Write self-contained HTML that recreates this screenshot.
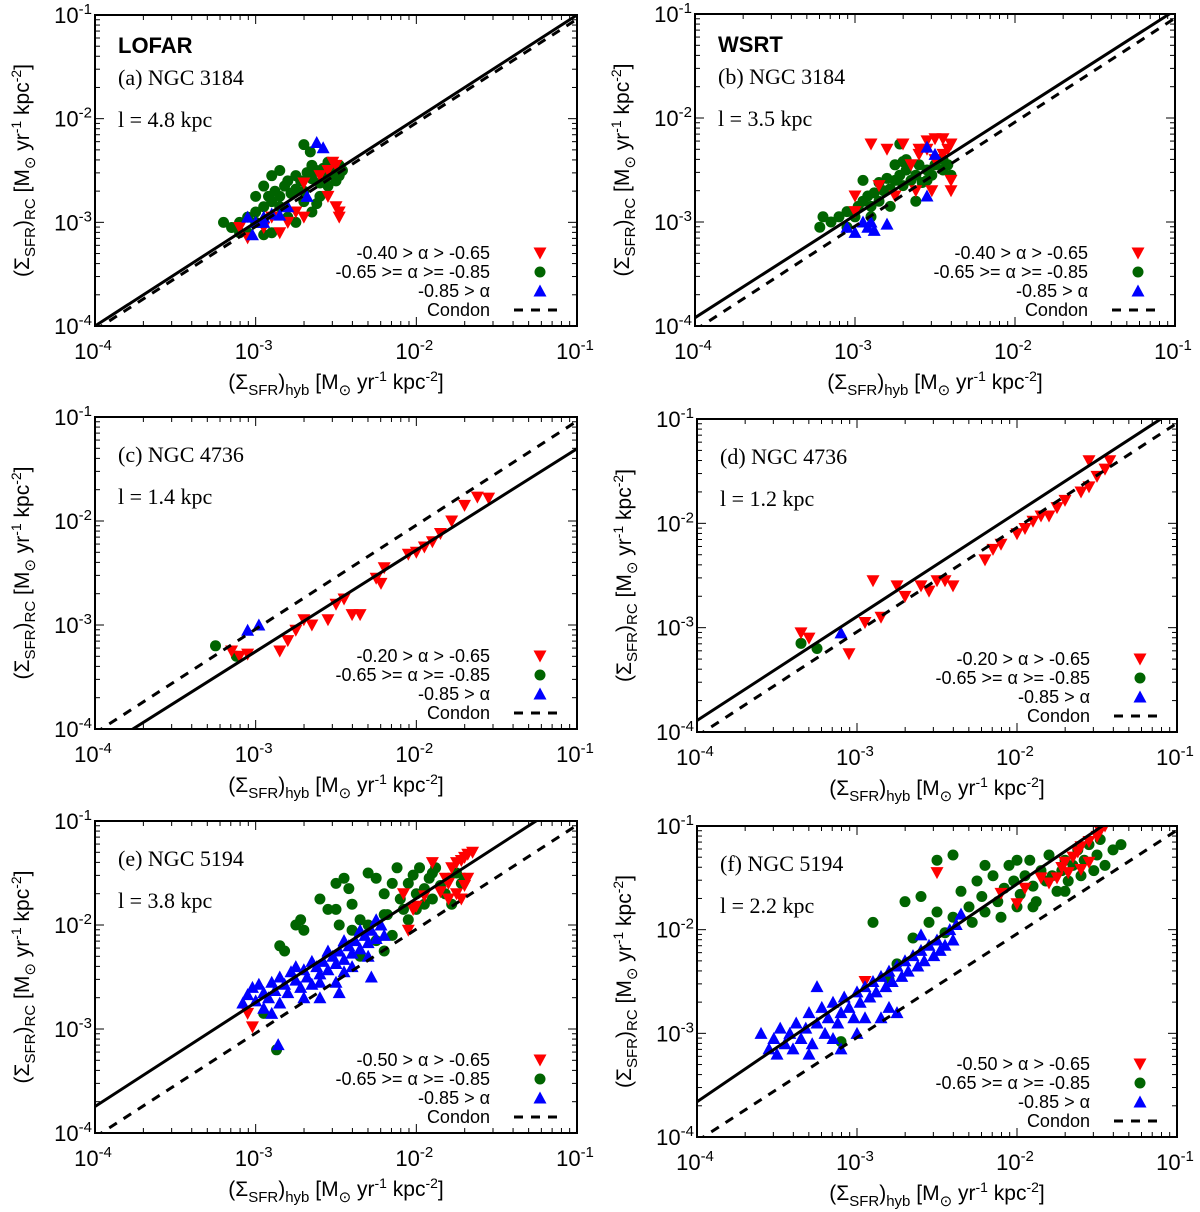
<!DOCTYPE html>
<html><head><meta charset="utf-8"><style>
html,body{margin:0;padding:0;background:#fff;}
svg{display:block;font-family:"Liberation Sans",sans-serif;}
.serif{font-family:"Liberation Serif",serif;}
</style></head>
<body>
<svg id="fig" xmlns="http://www.w3.org/2000/svg" width="1200" height="1212" viewBox="0 0 1200 1212"></svg>
<script>
// data values are log10(Sigma_SFR): [log x_hyb, log y_RC]
const aRed=[[-3.1,-3.05],[-3.05,-3.15],[-2.95,-3.05],[-2.85,-3.1],[-2.8,-3.0],[-2.75,-2.9],[-2.7,-2.95],[-2.55,-2.75],[-2.5,-2.85],[-2.48,-2.95],[-2.55,-2.5],[-2.5,-2.45],[-2.6,-2.55],[-2.52,-2.42],[-2.7,-2.62],[-2.9,-2.95],[-2.48,-2.9]];
const aGreen=[[-3.2,-3.0],[-3.15,-3.05],[-3.1,-3.0],[-3.05,-2.95],[-3.0,-3.0],[-3.0,-2.9],[-2.95,-2.85],[-2.92,-2.75],[-2.9,-2.8],[-2.88,-2.7],[-2.85,-2.75],[-2.85,-2.85],[-2.82,-2.65],[-2.8,-2.6],[-2.78,-2.72],[-2.75,-2.55],[-2.75,-2.68],[-2.72,-2.6],[-2.7,-2.7],[-2.68,-2.52],[-2.65,-2.58],[-2.65,-2.45],[-2.62,-2.5],[-2.6,-2.62],[-2.58,-2.48],[-2.55,-2.55],[-2.55,-2.42],[-2.52,-2.5],[-2.5,-2.52],[-2.5,-2.6],[-2.48,-2.45],[-2.48,-2.55],[-2.46,-2.5],[-2.9,-2.55],[-2.85,-2.5],[-2.95,-2.65],[-3.0,-2.75],[-2.7,-2.8],[-2.65,-2.9],[-2.9,-3.1],[-2.95,-3.12],[-3.05,-3.1],[-2.8,-2.95],[-2.75,-3.0],[-2.66,-2.32],[-2.7,-2.25],[-2.6,-2.75],[-3.1,-3.1],[-2.62,-2.82],[-2.55,-2.65]];
const aBlue=[[-3.05,-2.95],[-3.0,-3.0],[-2.95,-2.95],[-2.9,-2.92],[-2.95,-3.0],[-2.85,-2.93],[-2.8,-2.85],[-2.62,-2.23],[-2.58,-2.28],[-2.68,-2.75],[-3.02,-3.12]];
const bRed=[[-2.9,-2.25],[-2.8,-2.3],[-2.7,-2.25],[-2.6,-2.3],[-2.55,-2.22],[-2.5,-2.2],[-2.45,-2.2],[-2.42,-2.3],[-2.4,-2.25],[-2.6,-2.35],[-2.65,-2.45],[-2.5,-2.4],[-2.4,-2.6],[-2.4,-2.7],[-2.52,-2.7],[-2.62,-2.7],[-2.75,-2.75],[-3.0,-2.75],[-3.0,-2.9],[-2.85,-2.65],[-2.45,-2.35],[-2.55,-2.3]];
const bGreen=[[-3.22,-3.05],[-3.2,-2.95],[-3.15,-3.0],[-3.1,-2.95],[-3.05,-2.9],[-3.0,-2.95],[-2.98,-2.85],[-2.95,-2.8],[-2.92,-2.75],[-2.9,-2.85],[-2.88,-2.72],[-2.85,-2.62],[-2.82,-2.7],[-2.8,-2.58],[-2.78,-2.68],[-2.75,-2.6],[-2.72,-2.55],[-2.7,-2.65],[-2.68,-2.5],[-2.65,-2.6],[-2.62,-2.55],[-2.6,-2.45],[-2.58,-2.62],[-2.55,-2.5],[-2.52,-2.55],[-2.5,-2.45],[-2.48,-2.4],[-2.45,-2.5],[-2.42,-2.45],[-2.4,-2.55],[-2.62,-2.8],[-2.7,-2.42],[-2.75,-2.45],[-2.9,-2.95],[-3.05,-3.05],[-2.68,-2.4],[-2.95,-2.6],[-2.85,-2.8],[-2.78,-2.85],[-2.55,-2.6],[-2.45,-2.4],[-2.72,-2.25]];
const bBlue=[[-3.05,-3.05],[-3.0,-3.1],[-2.95,-3.0],[-2.92,-3.05],[-2.9,-3.0],[-2.88,-3.08],[-2.8,-3.02],[-2.55,-2.28],[-2.5,-2.35],[-2.55,-2.75]];
const cRed=[[-1.62,-1.77],[-1.55,-1.78],[-1.7,-1.85],[-1.78,-2.0],[-1.85,-2.12],[-1.9,-2.2],[-1.95,-2.25],[-2.0,-2.3],[-2.05,-2.32],[-2.2,-2.45],[-2.25,-2.55],[-2.22,-2.6],[-2.45,-2.75],[-2.5,-2.8],[-2.4,-2.9],[-2.35,-2.9],[-2.55,-2.95],[-2.65,-3.0],[-2.7,-2.95],[-2.75,-3.05],[-2.8,-3.15],[-2.85,-3.25],[-3.15,-3.25],[-3.1,-3.3],[-3.05,-3.28]];
const cGreen=[[-3.25,-3.2],[-3.12,-3.3]];
const cBlue=[[-3.05,-3.05],[-2.98,-3.0]];
const dRed=[[-3.35,-3.05],[-3.3,-3.1],[-3.05,-3.25],[-2.95,-2.95],[-2.9,-2.55],[-2.85,-2.9],[-2.75,-2.6],[-2.7,-2.7],[-2.6,-2.6],[-2.55,-2.65],[-2.5,-2.55],[-2.45,-2.55],[-2.4,-2.6],[-2.2,-2.35],[-2.15,-2.25],[-2.1,-2.2],[-2.0,-2.1],[-1.95,-2.05],[-1.9,-1.98],[-1.85,-1.93],[-1.8,-1.93],[-1.75,-1.85],[-1.7,-1.78],[-1.6,-1.7],[-1.55,-1.65],[-1.5,-1.55],[-1.45,-1.48],[-1.42,-1.4],[-1.55,-1.4]];
const dGreen=[[-3.35,-3.15],[-3.25,-3.2]];
const dBlue=[[-3.1,-3.05]];
const eRed=[[-1.65,-1.3],[-1.68,-1.32],[-1.7,-1.35],[-1.72,-1.38],[-1.75,-1.4],[-1.78,-1.45],[-1.8,-1.6],[-1.82,-1.55],[-1.75,-1.7],[-1.7,-1.62],[-1.72,-1.75],[-1.85,-1.68],[-1.9,-1.4],[-1.95,-1.72],[-2.0,-1.82],[-2.02,-1.85],[-2.05,-2.05],[-2.08,-1.7],[-1.8,-1.75],[-1.68,-1.55],[-3.05,-2.85],[-3.02,-2.98]];
const eGreen=[[-2.85,-2.2],[-2.82,-2.25],[-2.75,-2.0],[-2.72,-1.95],[-2.7,-2.05],[-2.6,-1.75],[-2.55,-1.85],[-2.5,-1.85],[-2.48,-2.0],[-2.5,-1.6],[-2.45,-1.55],[-2.42,-1.65],[-2.4,-1.8],[-2.35,-1.95],[-2.3,-2.0],[-2.3,-1.5],[-2.25,-1.55],[-2.2,-1.7],[-2.18,-1.9],[-2.15,-2.1],[-2.15,-1.6],[-2.12,-1.45],[-2.1,-1.75],[-2.08,-1.85],[-2.05,-1.95],[-2.05,-1.6],[-2.02,-1.52],[-2.0,-1.7],[-1.98,-1.45],[-1.95,-1.8],[-1.95,-1.65],[-1.92,-1.55],[-1.9,-1.75],[-1.88,-1.45],[-1.85,-1.62],[-1.82,-1.7],[-1.8,-1.55],[-1.78,-1.8],[-1.75,-1.5],[-1.72,-1.6],[-1.7,-1.55],[-2.2,-2.25],[-2.25,-2.15],[-2.35,-2.3],[-2.95,-2.85],[-2.87,-3.2],[-2.4,-2.05],[-2.0,-1.85],[-1.9,-1.5],[-2.2,-1.9]];
const eBlue=[[-3.08,-2.75],[-3.05,-2.67],[-3.02,-2.6],[-3.0,-2.73],[-2.98,-2.57],[-2.95,-2.65],[-2.92,-2.7],[-2.9,-2.55],[-2.88,-2.63],[-2.85,-2.5],[-2.82,-2.57],[-2.8,-2.65],[-2.78,-2.45],[-2.75,-2.53],[-2.72,-2.6],[-2.7,-2.43],[-2.68,-2.5],[-2.65,-2.57],[-2.62,-2.4],[-2.6,-2.47],[-2.58,-2.35],[-2.55,-2.43],[-2.52,-2.3],[-2.5,-2.37],[-2.48,-2.25],[-2.45,-2.33],[-2.42,-2.2],[-2.4,-2.27],[-2.38,-2.15],[-2.35,-2.23],[-2.32,-2.1],[-2.3,-2.17],[-2.28,-2.05],[-2.25,-2.13],[-2.22,-2.0],[-2.25,-1.95],[-2.35,-2.05],[-2.45,-2.15],[-2.55,-2.25],[-2.65,-2.35],[-2.75,-2.4],[-2.7,-2.7],[-2.6,-2.7],[-2.5,-2.55],[-2.48,-2.65],[-2.45,-2.45],[-2.4,-2.4],[-2.9,-2.85],[-2.86,-3.15],[-2.3,-2.3],[-2.28,-2.5],[-2.85,-2.75],[-2.95,-2.8],[-2.6,-2.55],[-2.2,-2.1]];
const fRed=[[-1.45,-1.0],[-1.48,-1.05],[-1.5,-1.1],[-1.55,-1.15],[-1.6,-1.2],[-1.62,-1.25],[-1.65,-1.3],[-1.7,-1.35],[-1.72,-1.4],[-1.68,-1.45],[-1.75,-1.5],[-1.6,-1.42],[-1.55,-1.35],[-1.8,-1.55],[-1.95,-1.6],[-2.0,-1.75],[-2.1,-1.65],[-2.5,-1.45],[-1.85,-1.5],[-2.95,-2.5]];
const fGreen=[[-3.1,-3.08],[-2.75,-2.33],[-2.8,-2.48],[-2.65,-2.08],[-2.55,-1.93],[-2.5,-1.83],[-2.45,-2.03],[-2.4,-1.88],[-2.35,-1.63],[-2.3,-1.78],[-2.28,-1.93],[-2.25,-1.53],[-2.22,-1.68],[-2.2,-1.83],[-2.15,-1.48],[-2.12,-1.73],[-2.1,-1.88],[-2.08,-1.6],[-2.05,-1.38],[-2.02,-1.53],[-2.0,-1.78],[-1.98,-1.66],[-1.95,-1.48],[-1.92,-1.33],[-1.9,-1.58],[-1.88,-1.73],[-1.85,-1.43],[-1.82,-1.53],[-1.8,-1.28],[-1.78,-1.48],[-1.75,-1.63],[-1.72,-1.43],[-1.7,-1.33],[-1.68,-1.53],[-1.65,-1.38],[-1.62,-1.23],[-1.6,-1.48],[-1.58,-1.33],[-1.55,-1.18],[-1.52,-1.43],[-1.5,-1.28],[-1.48,-1.13],[-1.45,-1.38],[-2.5,-1.33],[-2.4,-1.28],[-2.2,-1.38],[-2.0,-1.33],[-2.7,-1.73],[-2.6,-1.68],[-2.9,-1.93],[-1.9,-1.78],[-1.4,-1.23],[-1.35,-1.18],[-1.7,-1.63]];
const fBlue=[[-3.6,-3.0],[-3.55,-3.15],[-3.52,-3.05],[-3.5,-3.2],[-3.48,-2.95],[-3.45,-3.1],[-3.42,-3.0],[-3.4,-3.15],[-3.38,-2.9],[-3.35,-3.05],[-3.32,-2.95],[-3.3,-2.8],[-3.28,-3.1],[-3.25,-2.9],[-3.22,-2.75],[-3.2,-3.0],[-3.18,-2.85],[-3.15,-2.7],[-3.12,-2.9],[-3.1,-2.8],[-3.08,-2.65],[-3.05,-2.75],[-3.02,-2.85],[-3.0,-2.6],[-2.98,-2.7],[-2.95,-2.55],[-2.92,-2.65],[-2.9,-2.5],[-2.88,-2.6],[-2.85,-2.45],[-2.82,-2.55],[-2.8,-2.4],[-2.78,-2.5],[-2.75,-2.35],[-2.72,-2.45],[-2.7,-2.3],[-2.68,-2.4],[-2.65,-2.25],[-2.62,-2.35],[-2.6,-2.2],[-2.6,-2.05],[-2.58,-2.3],[-2.55,-2.15],[-2.52,-2.25],[-2.5,-2.1],[-2.48,-2.2],[-2.45,-2.15],[-2.42,-2.0],[-2.4,-2.1],[-2.38,-1.95],[-2.35,-1.85],[-3.25,-2.55],[-3.0,-3.0],[-3.1,-3.15],[-3.3,-3.2],[-2.95,-2.85],[-2.8,-2.75],[-2.75,-2.8],[-2.85,-2.85],[-3.15,-3.05]];
// fit lines: log y = fitA + fitB*(log x + 4)
const fitA=[-4.0,-3.92,-4.23,-3.89,-3.745,-3.66];
const fitB=[1.0,0.985,0.975,0.997,1.0,1.05];
const condonOffset=-0.04;
const tickLabels=["10","10","10","10"];
const tickExps=["-4","-3","-2","-1"];
const legendA=["-0.40 > α > -0.65","-0.65 >= α >= -0.85","-0.85 > α","Condon"];
const legendC=["-0.20 > α > -0.65","-0.65 >= α >= -0.85","-0.85 > α","Condon"];
const legendE=["-0.50 > α > -0.65","-0.65 >= α >= -0.85","-0.85 > α","Condon"];

const NS="http://www.w3.org/2000/svg";
const svg=document.getElementById('fig');
function mk(tag,attrs,parent){const e=document.createElementNS(NS,tag);for(const k in attrs)e.setAttribute(k,attrs[k]);(parent||svg).appendChild(e);return e;}

const panels=[
 {id:'a',x0:95,x1:577,y0:15,y1:326,red:aRed,green:aGreen,blue:aBlue,leg:legendA,title:'LOFAR',name:'(a) NGC 3184',scale:'l = 4.8 kpc'},
 {id:'b',x0:695,x1:1175,y0:14,y1:326,red:bRed,green:bGreen,blue:bBlue,leg:legendA,title:'WSRT',name:'(b) NGC 3184',scale:'l = 3.5 kpc'},
 {id:'c',x0:95,x1:577,y0:417,y1:729,red:cRed,green:cGreen,blue:cBlue,leg:legendC,name:'(c) NGC 4736',scale:'l = 1.4 kpc'},
 {id:'d',x0:697,x1:1177,y0:419,y1:732,red:dRed,green:dGreen,blue:dBlue,leg:legendC,name:'(d) NGC 4736',scale:'l = 1.2 kpc'},
 {id:'e',x0:95,x1:577,y0:821,y1:1133,red:eRed,green:eGreen,blue:eBlue,leg:legendE,name:'(e) NGC 5194',scale:'l = 3.8 kpc'},
 {id:'f',x0:697,x1:1177,y0:826,y1:1137,red:fRed,green:fGreen,blue:fBlue,leg:legendE,name:'(f) NGC 5194',scale:'l = 2.2 kpc'}
];

function down(g,cx,cy){return mk('polygon',{points:`${cx-6.5},${cy-5.5} ${cx+6.5},${cy-5.5} ${cx},${cy+6.5}`,fill:'#ff0000'},g);}
function up(g,cx,cy){return mk('polygon',{points:`${cx-6.5},${cy+5.5} ${cx+6.5},${cy+5.5} ${cx},${cy-6.5}`,fill:'#0000ff'},g);}
function dot(g,cx,cy){return mk('circle',{cx:cx,cy:cy,r:5.5,fill:'#006400'},g);}

function axTitle(g,x,y,sub,rot){
  const t=mk('text',{x:x,y:y,'font-size':21,'text-anchor':'middle',transform:rot?`rotate(-90 ${x} ${y})`:''},g);
  const parts=[['(Σ',0,21],['SFR',6,15],[')',-6,21],[sub,6,15],[' [M',-6,21],['⊙',6,15],[' yr',-6,21],['-1',-8,14],[' kpc',8,21],['-2',-8,14],[']',8,21]];
  parts.forEach(p=>{const s=mk('tspan',{dy:p[1],'font-size':p[2]},t);s.textContent=p[0];});
  return t;
}

panels.forEach((P,pi)=>{
  const g=mk('g',{});
  
  
  const X=v=>P.x0+(v+4)/3*(P.x1-P.x0);
  const Y=v=>P.y1-(v+4)/3*(P.y1-P.y0);
  const clip=mk('clipPath',{id:'clip'+P.id},g);
  mk('rect',{x:P.x0,y:P.y0,width:P.x1-P.x0,height:P.y1-P.y0},clip);
  const tg=mk('g',{stroke:'#000','stroke-width':1},g);
  
  
  for(let d=-4;d<-1+1e-9;d++){
    for(let m=1;m<=9;m++){
      const v=d+Math.log10(m); if(v>-1+1e-9)break;
      const L=m===1?9:5;
      const xx=X(v),yy=Y(v);
      mk('line',{x1:xx,y1:P.y1,x2:xx,y2:P.y1-L},tg);
      mk('line',{x1:xx,y1:P.y0,x2:xx,y2:P.y0+L},tg);
      mk('line',{x1:P.x0,y1:yy,x2:P.x0+L,y2:yy},tg);
      mk('line',{x1:P.x1,y1:yy,x2:P.x1-L,y2:yy},tg);
    }
  }
  for(let i=0;i<4;i++){
    const v=-4+i;
    const tx=mk('text',{x:X(v)-2,y:P.y1+33,'font-size':22,'text-anchor':'middle'},g);
    
    
    tx.innerHTML=tickLabels[i]+`<tspan dy="-9" font-size="15">${tickExps[i]}</tspan>`;
    const ty=mk('text',{x:P.x0-3,y:Y(v)+8,'font-size':22,'text-anchor':'end'},g);
    
    
    ty.innerHTML=tickLabels[i]+`<tspan dy="-9" font-size="15">${tickExps[i]}</tspan>`;
  }
  const xt=axTitle(g,(P.x0+P.x1)/2,P.y1+63,'hyb',false);
  
  
  const yt=axTitle(g,P.x0-66,(P.y0+P.y1)/2,'RC',true);
  
  
  const mg=mk('g',{'clip-path':`url(#clip${P.id})`},g);
  P.green.forEach(p=>{const e=dot(mg,X(p[0]),Y(p[1]));});
  P.red.forEach(p=>{const e=down(mg,X(p[0]),Y(p[1]));});
  P.blue.forEach(p=>{const e=up(mg,X(p[0]),Y(p[1]));});
  const fx0=-4, fx1=-1;
  const fy=v=>fitA[pi]+fitB[pi]*(v+4);
  const fit=mk('line',{x1:X(fx0),y1:Y(fy(fx0)),x2:X(fx1),y2:Y(fy(fx1)),stroke:'#000','stroke-width':3,'clip-path':`url(#clip${P.id})`},g);
  
  
  const con=mk('line',{x1:X(-4),y1:Y(-4+condonOffset),x2:X(-1),y2:Y(-1+condonOffset),stroke:'#000','stroke-width':3,'stroke-dasharray':'9,8','clip-path':`url(#clip${P.id})`},g);
  
  
  const fr=mk('rect',{x:P.x0,y:P.y0,width:P.x1-P.x0,height:P.y1-P.y0,fill:'none',stroke:'#000','stroke-width':2},g);
  
  
  const off=P.title?0:-25;
  if(P.title){const t=mk('text',{x:P.x0+23,y:P.y0+38,'font-size':22,'font-weight':'bold'},g);t.textContent=P.title;
    }
  const n=mk('text',{x:P.x0+23,y:P.y0+70+off,'font-size':22,class:'serif'},g);n.textContent=P.name;
  
  const s=mk('text',{x:P.x0+23,y:P.y0+112+off,'font-size':22,class:'serif'},g);s.textContent=P.scale;
  
  const lg=mk('g',{},g);
  
  
  for(let i=0;i<4;i++){
    const ry=P.y1-73+i*19;
    const t=mk('text',{x:P.x1-87,y:ry+6,'font-size':18,'text-anchor':'end'},lg);
    t.textContent=P.leg[i];
    
    
    const mx=P.x1-37;
    if(i===0)down(lg,mx,ry);
    else if(i===1)dot(lg,mx,ry);
    else if(i===2)up(lg,mx,ry);
    else mk('line',{x1:mx-26,y1:ry,x2:mx+22,y2:ry,stroke:'#000','stroke-width':3,'stroke-dasharray':'9,8'},lg);
  }
});
</script>
</body></html>
